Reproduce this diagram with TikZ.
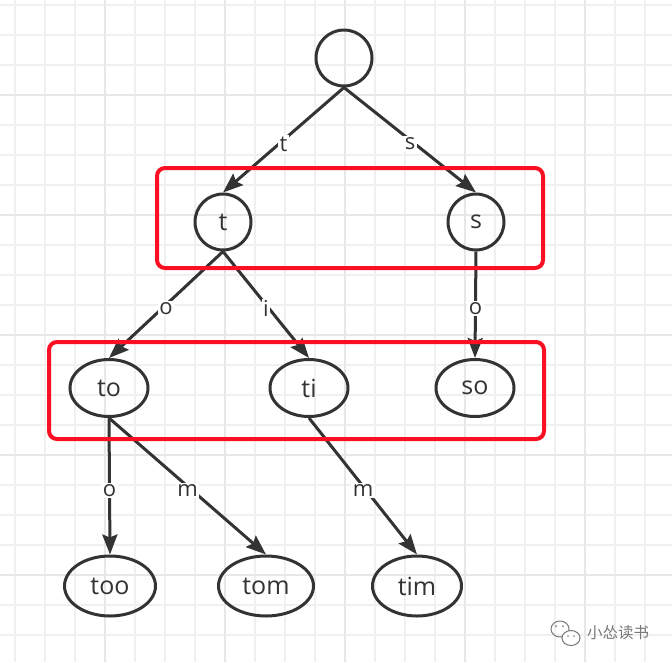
\documentclass[tikz,border=0pt]{standalone}
\usepackage{fontspec}
\setmainfont{Open Sans}
\newfontfamily\cjk{Noto Sans CJK SC}
\usetikzlibrary{shapes.geometric,arrows.meta}
\definecolor{ink}{RGB}{51,51,51}
\definecolor{boxred}{RGB}{250,16,34}
\definecolor{gridgray}{RGB}{240,240,240}
\definecolor{gridmajor}{RGB}{231,231,231}
\definecolor{markgray}{RGB}{120,120,120}

\begin{document}
\begin{tikzpicture}[x=1pt, y=-1pt,
  every node/.style={text=ink, font=\fontsize{25}{28}\selectfont},
  circ/.style={circle, draw=ink, line width=3pt, minimum size=56pt, inner sep=0pt},
  oval/.style={ellipse, draw=ink, line width=3pt, minimum width=78pt, minimum height=57pt, inner sep=0pt},
  leaf/.style={ellipse, draw=ink, line width=3pt, minimum width=91pt, minimum height=60pt, inner sep=0pt},
  edge/.style={draw=ink, line width=3pt, -{Stealth[length=20pt, width=15pt, inset=3pt]}},
  lbl/.style={midway, yshift=-4pt, fill=white, inner sep=1.5pt, font=\fontsize{22}{24}\selectfont},
  redbox/.style={draw=boxred, line width=4pt, rounded corners=8pt}]
  \useasboundingbox (0,0) rectangle (672,662);
  \fill[white] (0,0) rectangle (672,662);
  % background grid
  \begin{scope}
    \clip (0,0) rectangle (672,662);
    \foreach \x in {15,45,...,675}
      \draw[gridgray, line width=2pt] (\x,0) -- (\x,662);
    \foreach \y in {5,35,...,665}
      \draw[gridgray, line width=2pt] (0,\y) -- (672,\y);
    \foreach \x in {105,225,345,465,585}
      \draw[gridmajor, line width=2pt] (\x,0) -- (\x,662);
    \foreach \y in {95,215,335,455,575}
      \draw[gridmajor, line width=2pt] (0,\y) -- (672,\y);
  \end{scope}

  \node[circ] (root) at (344,58) {};
  \node[circ] (t) at (223,222) {t};
  \node[circ] (s) at (476,222) {s};
  \node[oval] (to) at (109,388) {to};
  \node[oval] (ti) at (309,388) {ti};
  \node[oval] (so) at (475,388) {so};
  \node[leaf] (too) at (110,586) {too};
  \node[leaf, minimum width=95pt] (tom) at (266,586) {tom};
  \node[leaf, minimum width=89pt] (tim) at (417,586) {tim};

  \draw[edge] (root.south) -- node[lbl] {t} (t.north);
  \draw[edge] (root.south) -- node[lbl] {s} (s.north);
  \draw[edge] (t.south) -- node[lbl] {o} (to.north);
  \draw[edge] (t.south) -- node[lbl] {i} (ti.north);
  \draw[edge] (s.south) -- node[lbl] {o} (so.north);
  \draw[edge] (to.south) -- node[lbl] {o} (too.north);
  \draw[edge] (to.south) -- node[lbl] {m} (tom.north);
  \draw[edge] (ti.south) -- node[lbl] {m} (tim.north);

  % highlighted levels
  \draw[redbox] (157,168) rectangle (543,268);
  \draw[redbox] (49,342) rectangle (544,439);

  % watermark
  \begin{scope}[markgray, line width=1pt]
    \draw (560,629) ellipse (9pt and 8pt);
    \fill[white] (571,638) ellipse (9pt and 7.5pt);
    \draw (571,638) ellipse (9pt and 7.5pt);
    \fill (556,626) circle (1pt) (563,626) circle (1pt);
    \fill (568,636) circle (0.9pt) (574,636) circle (0.9pt);
  \end{scope}
  \node[text=markgray, font=\cjk\fontsize{15.5}{18}\selectfont] (mark) at (618,633) {小怂读书};
\end{tikzpicture}
\end{document}
